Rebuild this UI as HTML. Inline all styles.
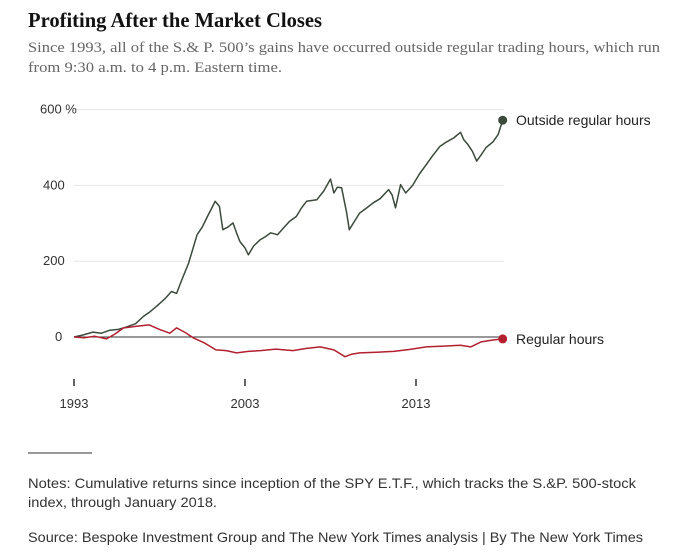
<!DOCTYPE html>
<html><head><meta charset="utf-8"><style>
body{margin:0;background:#fff;width:685px;height:559px;overflow:hidden}
svg{display:block}
</style></head><body>
<svg id="chart" width="685" height="559" font-family="Liberation Sans, sans-serif">
<text x="28" y="27" font-family="Liberation Serif, serif" font-weight="bold" font-size="21" textLength="294" lengthAdjust="spacingAndGlyphs" fill="#121212">Profiting After the Market Closes</text>
<text x="28" y="52" font-family="Liberation Serif, serif" font-size="15" textLength="632" lengthAdjust="spacingAndGlyphs" fill="#666">Since 1993, all of the S.&amp; P. 500’s gains have occurred outside regular trading hours, which run</text>
<text x="28" y="72" font-family="Liberation Serif, serif" font-size="15" textLength="254" lengthAdjust="spacingAndGlyphs" fill="#666">from 9:30 a.m. to 4 p.m. Eastern time.</text>
<g id="grid"></g>
<g id="lines"></g>
<line x1="28" x2="92" y1="453" y2="453" stroke="#333" stroke-width="1"/>
<text x="28" y="488" font-size="14" fill="#333" textLength="608" lengthAdjust="spacingAndGlyphs">Notes: Cumulative returns since inception of the SPY E.T.F., which tracks the S.&amp;P. 500-stock</text>
<text x="28" y="507" font-size="14" fill="#333" textLength="189" lengthAdjust="spacingAndGlyphs">index, through January 2018.</text>
<text x="28" y="542" font-size="14" fill="#333" textLength="615" lengthAdjust="spacingAndGlyphs">Source: Bespoke Investment Group and The New York Times analysis | By The New York Times</text>
</svg>
<script>
const yTicks=[0,200,400,600];
const xTickYears=[1993,2003,2013];
const outsideYears=[1993.0,1993.5,1994.1,1994.6,1995.1,1995.6,1996.1,1996.6,1997.05,1997.4,1997.8,1998.3,1998.7,1999.0,1999.3,1999.7,2000.2,2000.5,2000.8,2001.0,2001.25,2001.5,2001.7,2002.0,2002.3,2002.5,2002.7,2003.0,2003.2,2003.5,2003.9,2004.2,2004.5,2004.9,2005.2,2005.6,2006.0,2006.3,2006.6,2007.2,2007.6,2008.0,2008.2,2008.4,2008.65,2008.95,2009.1,2009.4,2009.7,2010.1,2010.5,2010.9,2011.4,2011.6,2011.8,2012.1,2012.4,2012.8,2013.2,2013.6,2014.0,2014.4,2014.8,2015.2,2015.6,2015.8,2016.0,2016.3,2016.55,2016.8,2017.1,2017.5,2017.8,2018.07];
const outsideVals=[0,5,13,10,18,20,27,35,54,65,80,100,120,115,150,195,270,290,318,335,358,345,283,290,301,275,252,235,217,240,257,265,275,270,285,305,318,340,358,362,385,417,380,395,394,327,283,305,327,340,354,365,389,375,341,402,380,400,430,455,480,503,515,525,540,520,510,490,464,480,500,515,534,572];
const regularYears=[1993.0,1993.6,1994.2,1994.9,1995.4,1995.9,1996.6,1997.4,1998.0,1998.6,1999.0,1999.5,2000.0,2000.6,2001.3,2001.9,2002.5,2003.2,2003.9,2004.8,2005.8,2006.6,2007.4,2008.2,2008.85,2009.2,2009.7,2010.7,2011.7,2012.6,2013.6,2014.6,2015.6,2016.2,2016.8,2017.5,2018.07];
const regularVals=[0,-2,2,-5,8,24,28,32,20,10,24,12,-3,-15,-34,-36,-42,-38,-36,-32,-36,-30,-26,-34,-52,-46,-42,-40,-38,-33,-26,-24,-22,-26,-13,-8,-5];
const NS='http://www.w3.org/2000/svg';
const xS=y=>74+(y-1993)*17.1;
const yS=v=>337-v*0.379;
const grid=document.getElementById('grid'),lines=document.getElementById('lines');
function mk(t,a){const e=document.createElementNS(NS,t);for(const k in a)e.setAttribute(k,a[k]);return e;}
yTicks.forEach(v=>{
  if(v!==0){const l=mk('line',{x1:74,x2:504,y1:yS(v),y2:yS(v),stroke:'#e6e6e6','stroke-width':1});
  
  
  grid.appendChild(l);}
  const t=mk('text',{x:v===600?40:(v===0?55:43),y:yS(v)+4,'font-size':13,fill:'#333'});
  t.textContent=v===600?'600 %':String(v);
  
  
  grid.appendChild(t);
});
xTickYears.forEach(yr=>{
  const l=mk('line',{x1:xS(yr),x2:xS(yr),y1:379,y2:386,stroke:'#333','stroke-width':1.5});
  
  
  grid.appendChild(l);
  const t=mk('text',{x:xS(yr),y:408,'font-size':13,fill:'#333','text-anchor':'middle'});
  t.textContent=yr;
  
  
  grid.appendChild(t);
});
const zl=mk('line',{x1:74,x2:504,y1:yS(0),y2:yS(0),stroke:'#333','stroke-width':1});


grid.appendChild(zl);
function series(xs,vs,color,name,label){
  const d=xs.map((x,i)=>(i?'L':'M')+xS(x).toFixed(1)+','+yS(vs[i]).toFixed(1)).join('');
  const p=mk('path',{d:d,fill:'none',stroke:color,'stroke-width':1.5,'stroke-linejoin':'round'});
  
  
  lines.appendChild(p);
  const n=xs.length-1;
  const c=mk('circle',{cx:xS(xs[n]),cy:yS(vs[n]),r:4.5,fill:color});
  
  
  lines.appendChild(c);
  const t=mk('text',{x:516,y:yS(vs[n])+5,'font-size':14,fill:'#222'});
  t.textContent=label;
  
  
  lines.appendChild(t);
}
series(outsideYears,outsideVals,'#3b4a3c','outside-hours','Outside regular hours');
series(regularYears,regularVals,'#b2202f','regular-hours','Regular hours');
</script>
</body></html>
